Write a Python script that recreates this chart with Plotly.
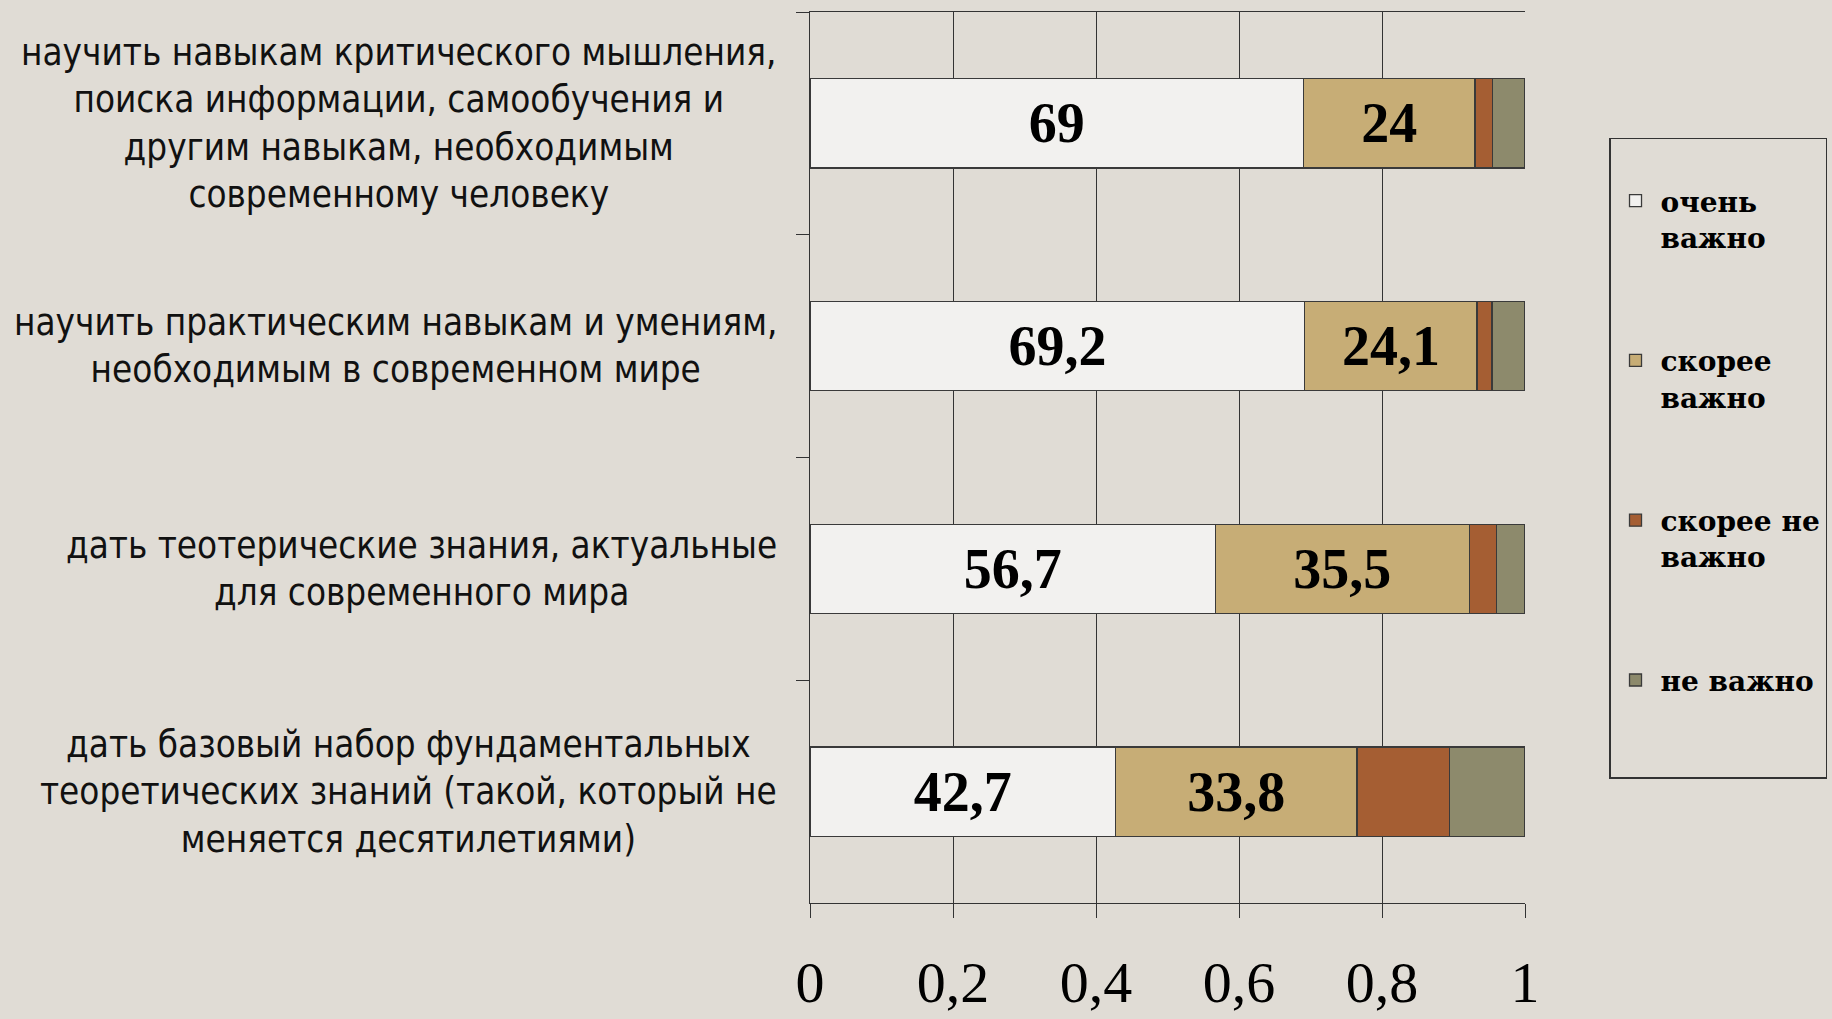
import plotly.graph_objects as go

categories = [
    "научить навыкам критического мышления,<br>поиска информации, самообучения и<br>другим навыкам, необходимым<br>современному человеку",
    "научить практическим навыкам и умениям,<br>необходимым в современном мире",
    "дать теотерические знания, актуальные<br>для современного мира",
    "дать базовый набор фундаментальных<br>теоретических знаний (такой, который не<br>меняется десятилетиями)",
]
cat_ids = ["c1", "c2", "c3", "c4"]

series_names = ["очень<br>важно", "скорее<br>важно", "скорее не<br>важно", "не важно<br> <br> "]
very_important = [69, 69.2, 56.7, 42.7]
rather_important = [24, 24.1, 35.5, 33.8]
rather_not_important = [2.5, 2.1, 3.8, 12.9]
not_important = [4.5, 4.6, 4.0, 10.6]
series_values = [very_important, rather_important, rather_not_important, not_important]
series_colors = ["#F2F1EF", "#C7AD76", "#A55E33", "#8D8A6C"]
show_labels = [True, True, False, False]

x_ticks = [0, 0.2, 0.4, 0.6, 0.8, 1]
x_tick_labels = ["0", "0,2", "0,4", "0,6", "0,8", "1"]

BG = "#E0DCD5"
LINE = "#333333"

fig = go.Figure()
for name, vals, col, lab in zip(series_names, series_values, series_colors, show_labels):
    fig.add_trace(go.Bar(
        y=cat_ids, x=vals, orientation="h", name=name,
        legendgroup=name,
        marker=dict(color=col, line=dict(color="#3a3a3a", width=1.3)),
        text=[(f"{v:g}".replace(".", ",")) for v in vals] if lab else None,
        textposition="inside" if lab else "none",
        insidetextanchor="middle",
        textangle=0,
        constraintext="none",
        textfont=dict(family="Liberation Serif", size=56, color="#000000", weight="bold"),
        hoverinfo="skip",
    ))

for cid, label in zip(cat_ids, categories):
    fig.add_annotation(
        xref="paper", yref="y", x=-0.043, y=cid, text=label,
        xanchor="right", yanchor="middle", align="center", showarrow=False,
        font=dict(family="DejaVu Sans Condensed", size=36.5, color="#111111"),
    )

fig.update_layout(
    width=1832, height=1019,
    margin=dict(l=810, r=307, t=12, b=116, autoexpand=False),
    paper_bgcolor=BG, plot_bgcolor=BG,
    barmode="stack", barnorm="fraction", bargap=0.6,
    separators=", ",
    showlegend=True,
    legend=dict(
        x=1.1175, y=0.8586, xanchor="left", yanchor="top",
        bgcolor="rgba(0,0,0,0)", bordercolor=LINE, borderwidth=1.5,
        traceorder="grouped", tracegroupgap=84, valign="top", itemwidth=40,
        title=dict(text=" ", font=dict(size=28)),
        font=dict(family="DejaVu Serif", size=28, color="#000000", weight="bold"),
    ),
    xaxis=dict(
        range=[0, 1], tickvals=x_ticks, ticktext=x_tick_labels, tickangle=0,
        automargin=False,
        showgrid=True, gridcolor=LINE, gridwidth=1,
        showline=True, linecolor=LINE, linewidth=1.2, mirror=True,
        ticks="outside", ticklen=14, tickcolor=LINE, tickwidth=1.2,
        zeroline=False, ticklabelstandoff=14,
        tickfont=dict(family="Liberation Serif", size=58, color="#000000"),
    ),
    yaxis=dict(
        categoryorder="array", categoryarray=cat_ids, autorange="reversed",
        automargin=False,
        showticklabels=False, showgrid=False, zeroline=False,
        showline=True, linecolor=LINE, linewidth=1.2,
        ticks="outside", ticklen=13, tickcolor=LINE, tickwidth=1.2,
        tickson="boundaries",
    ),
)

fig.write_html(
    "out.html",
    config={"displayModeBar": False},
    post_script="document.body.style.margin='0';document.body.style.background='" + BG + "';",
)
